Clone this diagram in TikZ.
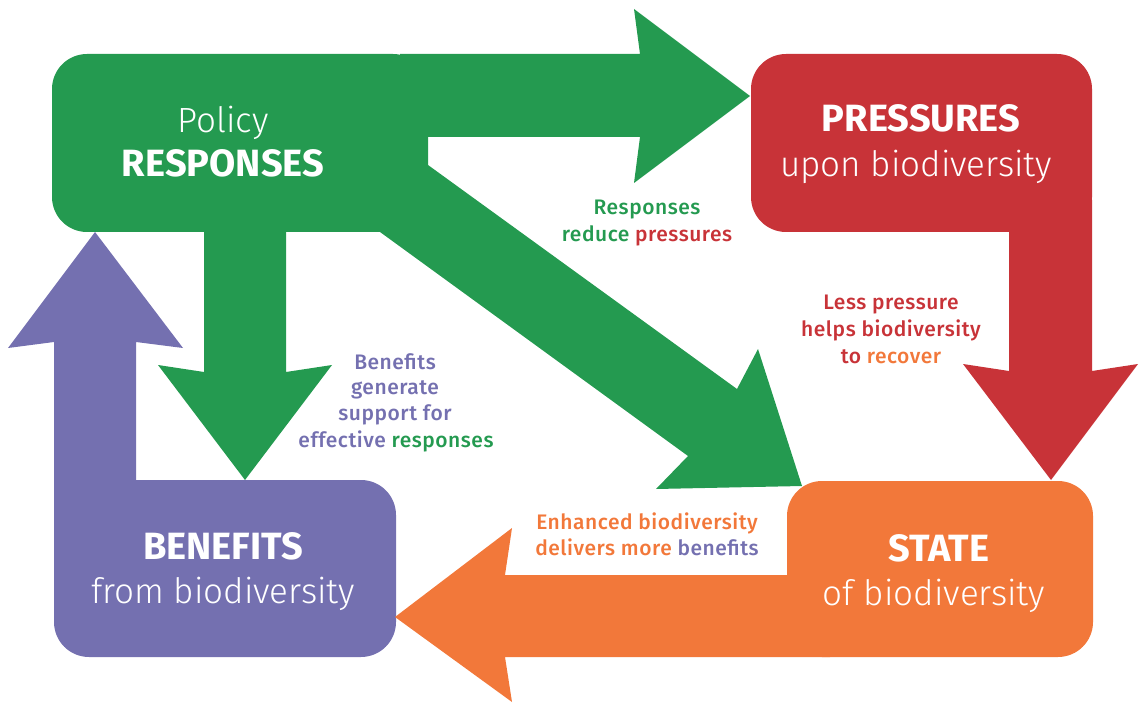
\documentclass[tikz,border=0pt]{standalone}
\usepackage{fontspec}
\setmainfont{Fira Sans}
\newfontfamily\lightfont{Fira Sans Light}
\newfontfamily\medfont{Fira Sans Medium}[LetterSpace=2.5]

\definecolor{respgreen}{HTML}{249A50}
\definecolor{presred}{HTML}{C83338}
\definecolor{benpurple}{HTML}{7470B0}
\definecolor{stateorange}{HTML}{F2783A}

\begin{document}
\begin{tikzpicture}[x=1pt, y=-1pt,
    title/.style={anchor=base, text=white, inner sep=0pt, font=\fontsize{38}{44}\selectfont\bfseries},
    subtitle/.style={anchor=base, text=white, inner sep=0pt, font=\fontsize{35}{44}\selectfont\lightfont},
    note/.style={anchor=base, inner sep=0pt, font=\fontsize{21}{27}\selectfont\medfont}]
                \useasboundingbox (0,0) rectangle (1142,703);

                %the four boxes
                \fill[stateorange, rounded corners=35] (787,481) rectangle (1093,657);
                \fill[benpurple, rounded corners=35] (54,480) rectangle (396,657);
                \fill[presred, rounded corners=35] (751,54) rectangle (1092,232);
                \fill[respgreen, rounded corners=35] (52,54) rectangle (428,232);

                %responses -> pressures
                \fill[respgreen] (400,54) -- (640,54) -- (634,9) -- (750,96) -- (634,183) -- (640,137) -- (400,137) -- cycle;
                %responses -> state
                \fill[respgreen] (380,165) -- (428,165) -- (737,389) -- (758,349) -- (802,486)
                    -- (656,489) -- (688,456) -- (380,232) -- cycle;
                %responses -> benefits
                \fill[respgreen] (204,200) -- (204,372) -- (158,365) -- (245,480) -- (332,365) -- (286,372) -- (286,200) -- cycle;
                %pressures -> state
                \fill[presred] (1009,200) -- (1009,371) -- (963,364) -- (1051,480) -- (1138,364) -- (1092,371) -- (1092,200) -- cycle;
                %state -> benefits
                \fill[stateorange] (830,575) -- (505,575) -- (512,528) -- (395,617) -- (512,702) -- (505,657) -- (830,657) -- cycle;
                %benefits -> responses
                \fill[benpurple] (54,520) -- (54,342) -- (8,348) -- (95,232) -- (183,348) -- (136,342) -- (136,520) -- cycle;

                %box texts
                \node[subtitle] (policy) at (223,133) {Policy};
                \node[title] (responses) at (223,177) {RESPONSES};
                \node[title] (pressures) at (921,132) {PRESSURES};
                \node[subtitle] (upon) at (916,177) {upon biodiversity};
                \node[title] (benefits) at (223,559) {BENEFITS};
                \node[subtitle] (from) at (223,603) {from biodiversity};
                \node[title] (state) at (939,561) {STATE};
                \node[subtitle] (of) at (934,605) {of biodiversity};

                %labels along the arrows
                \node[note, text=respgreen] (reduce1) at (647,215) {Responses};
                \node[note] (reduce2) at (647,242) {\color{respgreen}reduce \color{presred}pressures};
                \node[note, text=presred] (less1) at (891,309) {Less pressure};
                \node[note, text=presred] (less2) at (891,336) {helps biodiversity};
                \node[note] (less3) at (891,363) {\color{presred}to \color{stateorange}recover};
                \node[note, text=benpurple] (gen1) at (395,369) {Benefits};
                \node[note, text=benpurple] (gen2) at (395,394) {generate};
                \node[note, text=benpurple] (gen3) at (395,420) {support for};
                \node[note] (gen4) at (396,447) {\color{benpurple}effective \color{respgreen}responses};
                \node[note, text=stateorange] (enh1) at (647,529) {Enhanced biodiversity};
                \node[note] (enh2) at (647,555) {\color{stateorange}delivers more \color{benpurple}benefits};
\end{tikzpicture}
\end{document}
